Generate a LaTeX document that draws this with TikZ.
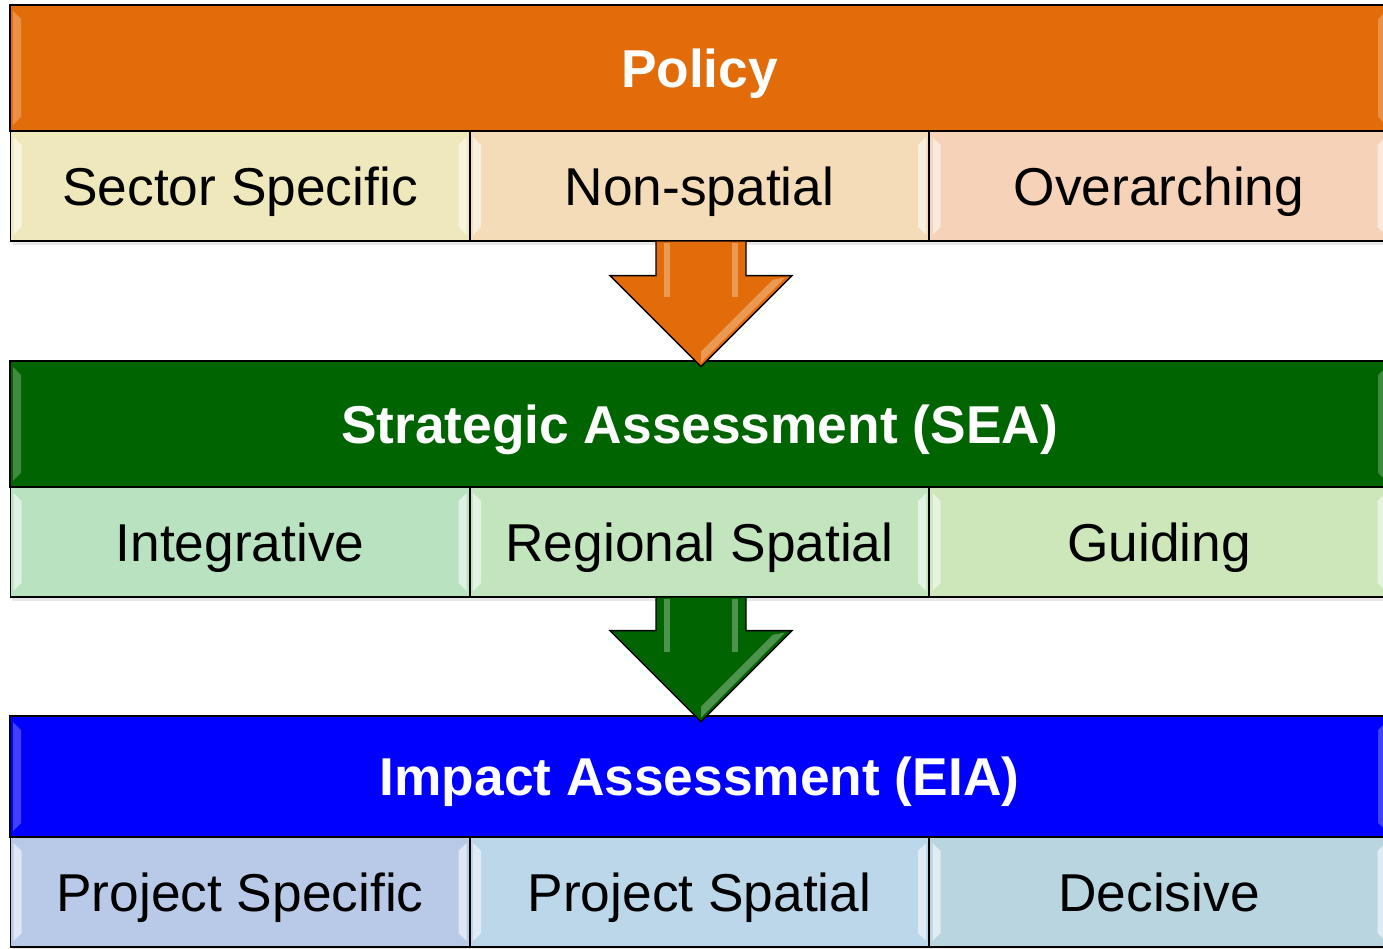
\documentclass[tikz,border=0pt]{standalone}
\usepackage{fontspec}
\setmainfont{Liberation Sans}
\usetikzlibrary{calc}
\definecolor{polorange}{HTML}{E36C0A}
\definecolor{seagreen}{HTML}{006400}
\definecolor{eiablue}{HTML}{0000FF}
\definecolor{cSector}{HTML}{EEE8BC}
\definecolor{cNonsp}{HTML}{F5DCB8}
\definecolor{cOver}{HTML}{F6D2B8}
\definecolor{cInteg}{HTML}{B8E2C0}
\definecolor{cRegion}{HTML}{C3E5BE}
\definecolor{cGuide}{HTML}{CDE6BA}
\definecolor{cProjSpec}{HTML}{B9CAE8}
\definecolor{cProjSpat}{HTML}{BCD6EA}
\definecolor{cDecis}{HTML}{B9D6E0}
\begin{document}
\begin{tikzpicture}[x=1pt,y=1pt,
  bevel/.style={path picture={
    \fill[white,opacity=#1]
      ([shift={(3pt,-6pt)}]path picture bounding box.north west) --
      ([shift={(11pt,-14pt)}]path picture bounding box.north west) --
      ([shift={(11pt,14pt)}]path picture bounding box.south west) --
      ([shift={(3pt,6pt)}]path picture bounding box.south west) -- cycle;
    \fill[white,opacity=#1]
      ([shift={(-3pt,-6pt)}]path picture bounding box.north east) --
      ([shift={(-11pt,-14pt)}]path picture bounding box.north east) --
      ([shift={(-11pt,14pt)}]path picture bounding box.south east) --
      ([shift={(-3pt,6pt)}]path picture bounding box.south east) -- cycle;
  }},
  cell/.style={draw=black, line width=1.4pt, minimum width=459pt,
    minimum height=110pt, inner sep=0pt, text=black,
    text height=38.2pt, text depth=0pt,
    font=\fontsize{53.3}{60}\selectfont, bevel=0.55},
  head/.style={draw=black, line width=1.4pt, minimum width=1379pt,
    minimum height=126pt, inner sep=0pt, text=white,
    text height=38.2pt, text depth=0pt,
    font=\bfseries\fontsize{53.3}{60}\selectfont, bevel=0.25},
  bigarrow/.style={draw=black, line width=1.4pt, line join=miter},
  shine/.style={fill=white, opacity=0.3}
]
\useasboundingbox (0,0) rectangle (1383,948);
\fill[white] (0,0) rectangle (1383,948);
\clip (0,0) rectangle (1383,948);

% shadows
\fill[black!9] (12,703) rectangle (1395,940);
\fill[black!9] (12,347) rectangle (1395,584);
\fill[black!9] (12,-3) rectangle (1395,229);

% Policy block
\node[head, fill=polorange] (pol) at (699.5,880) {Policy};
\node[cell, fill=cSector] (ss) at (240,762) {Sector Specific};
\node[cell, fill=cNonsp] (ns) at (699.5,762) {Non-spatial};
\node[cell, fill=cOver] (ov) at (1159,762) {Overarching};

% SEA block
\node[head, fill=seagreen] (sea) at (699.5,524) {Strategic Assessment (SEA)};
\node[cell, fill=cInteg] (ig) at (240,406) {Integrative};
\node[cell, fill=cRegion] (rs) at (699.5,406) {Regional Spatial};
\node[cell, fill=cGuide] (gd) at (1159,406) {Guiding};

% EIA block
\node[head, fill=eiablue, minimum height=121pt] (eia) at (699.5,171.5) {Impact Assessment (EIA)};
\node[cell, fill=cProjSpec] (ps) at (240,56) {Project Specific};
\node[cell, fill=cProjSpat] (pp) at (699.5,56) {Project Spatial};
\node[cell, fill=cDecis] (dc) at (1159,56) {Decisive};

% arrow 1: Policy -> SEA
\coordinate (a1) at ($(ns.south)+(1.5,0)$);
\draw[bigarrow, fill=polorange]
  ($(a1)+(-45,0)$) -- ($(a1)+(-45,-34)$) -- ($(a1)+(-91,-34)$) --
  ($(a1)+(0,-125)$) -- ($(a1)+(91,-34)$) -- ($(a1)+(45,-34)$) --
  ($(a1)+(45,0)$);
\fill[shine] ($(a1)+(-37,-1)$) rectangle ($(a1)+(-31,-55)$);
\fill[shine] ($(a1)+(31,-1)$) rectangle ($(a1)+(37,-55)$);
\fill[shine] ($(a1)+(84,-36)$) -- ($(a1)+(72,-38)$) -- ($(a1)+(0,-110)$) -- ($(a1)+(0,-121)$) -- cycle;

% arrow 2: SEA -> EIA
\coordinate (a2) at ($(rs.south)+(1.5,0)$);
\draw[bigarrow, fill=seagreen]
  ($(a2)+(-45,0)$) -- ($(a2)+(-45,-33)$) -- ($(a2)+(-91,-33)$) --
  ($(a2)+(0,-124)$) -- ($(a2)+(91,-33)$) -- ($(a2)+(45,-33)$) --
  ($(a2)+(45,0)$);
\fill[shine] ($(a2)+(-37,-1)$) rectangle ($(a2)+(-31,-54)$);
\fill[shine] ($(a2)+(31,-1)$) rectangle ($(a2)+(37,-54)$);
\fill[shine] ($(a2)+(84,-35)$) -- ($(a2)+(72,-37)$) -- ($(a2)+(0,-109)$) -- ($(a2)+(0,-120)$) -- cycle;
\end{tikzpicture}
\end{document}
